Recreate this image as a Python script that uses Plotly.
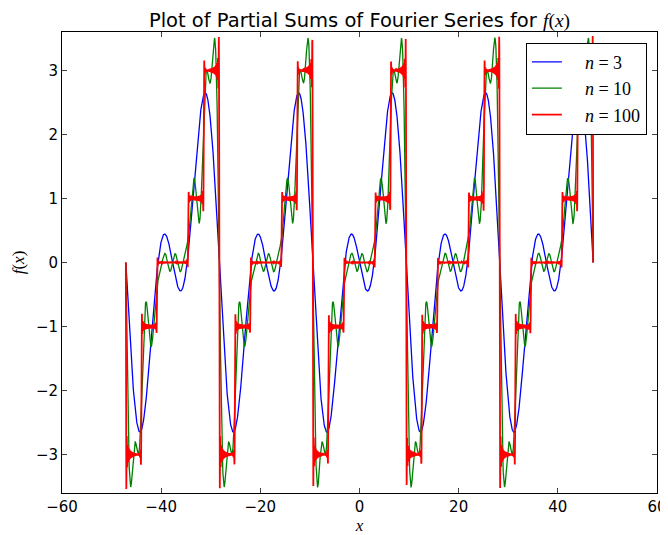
import numpy as np
import plotly.graph_objects as go

# Step function on one half-period (0, 3*pi): levels on consecutive intervals (odd extension)
interval_edges = [0.0, np.pi, 2 * np.pi, 3 * np.pi]
interval_levels = [0.0, 1.0, 3.0]
half_period = 3 * np.pi
x_start, x_end = -15 * np.pi, 15 * np.pi
n_samples = 3000

n_values = [3, 10, 100]
series_colors = ["#0000ff", "#008000", "#ff0000"]
series_widths = [1.3, 1.3, 1.8]

x_ticks = [-60, -40, -20, 0, 20, 40, 60]
y_ticks = [-3, -2, -1, 0, 1, 2, 3]


def sine_coeff(k):
    L = half_period
    total = 0.0
    for a, b, c in zip(interval_edges[:-1], interval_edges[1:], interval_levels):
        total += c * (L / (k * np.pi)) * (np.cos(k * np.pi * a / L) - np.cos(k * np.pi * b / L))
    return 2.0 / L * total


x = np.linspace(x_start, x_end, n_samples)


def partial_sum(n):
    s = np.zeros_like(x)
    for k in range(1, n):
        s += sine_coeff(k) * np.sin(k * np.pi * x / half_period)
    return s


fig = go.Figure()
for n, col, w in zip(n_values, series_colors, series_widths):
    label = '&nbsp;&nbsp;&nbsp;&nbsp;<i>n</i> = ' + str(n)
    fig.add_trace(go.Scatter(x=x, y=partial_sum(n), mode="lines", name=label,
                             line=dict(color=col, width=w)))

serif = "Liberation Serif, DejaVu Serif, serif"
W, H = 660, 527
fig.update_layout(
    width=W, height=H,
    margin=dict(l=54, r=11, t=24, b=42, autoexpand=False),
    paper_bgcolor="white", plot_bgcolor="white",
    font=dict(family="DejaVu Sans, sans-serif", size=15, color="black"),
    title=dict(text='Plot of Partial Sums of Fourier Series for '
                    '<span style="font-family:Liberation Serif"><i>f</i>(<i>x</i>)</span>',
               x=0.5, xanchor="center", xref="paper",
               y=1 - 12 / H, yanchor="middle",
               font=dict(size=19.5)),
    showlegend=True,
    legend=dict(x=0.983, y=0.977, xanchor="right", yanchor="top",
                bgcolor="white", bordercolor="black", borderwidth=1,
                font=dict(family=serif, size=18),
                itemwidth=30),
)
fig.update_xaxes(range=[-60, 60], tickvals=x_ticks, ticks="inside", ticklen=5,
                 showline=True, linecolor="black", linewidth=1, mirror="ticks",
                 showgrid=False, zeroline=False, automargin=False,
                 ticklabeloverflow="allow",
                 title=dict(text="<i>x</i>", font=dict(family=serif, size=17), standoff=6))
fig.update_yaxes(range=[-3.6, 3.6], tickvals=y_ticks, ticks="inside", ticklen=5,
                 showline=True, linecolor="black", linewidth=1, mirror="ticks",
                 showgrid=False, zeroline=False, automargin=False,
                 title=dict(text="<i>f</i>(<i>x</i>)", font=dict(family=serif, size=17), standoff=6))

fig.write_html("out.html")
